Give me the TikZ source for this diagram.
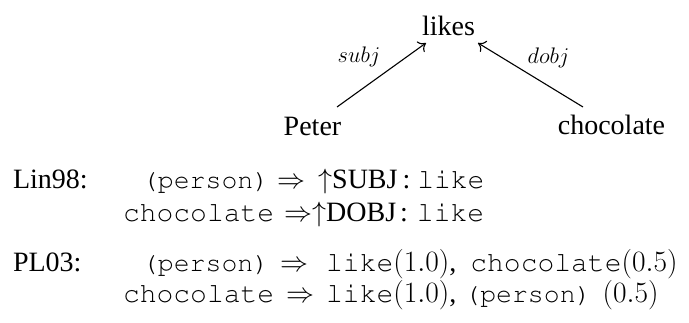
\RequirePackage{fix-cm}
\documentclass[tikz,border=0pt]{standalone}
\usepackage[T1]{fontenc}
\usepackage[no-math]{fontspec}
\setmainfont{Liberation Serif}
\usetikzlibrary{arrows.meta}

% Courier words, regular and slightly reduced
\newcommand{\tw}[1]{{\fontencoding{T1}\fontfamily{pcr}\fontsize{28}{34}\selectfont #1}}
\newcommand{\sm}[1]{{\fontencoding{T1}\fontfamily{pcr}\fontsize{26.5}{31}\selectfont #1}}
% weights in brackets
\newcommand{\wt}[1]{{\fontsize{29.5}{34}\selectfont$(#1)$}}

\tikzset{
  every node/.style={inner sep=0pt, outer sep=0pt},
  word/.style={font=\fontsize{28}{34}\selectfont, anchor=base},
  lab/.style={font=\fontsize{22.5}{27}\selectfont, anchor=base},
  row/.style={font=\fontsize{28}{34}\selectfont, anchor=base west},
  dep/.style={line width=1.1pt, -{To[length=7pt, width=13pt]}}
}

\begin{document}
\begin{tikzpicture}[x=1pt, y=-1pt]
  \useasboundingbox (0,0) rectangle (689,323);

  % dependency tree
  \node[word] (likes) at (448.5,36)  {likes};
  \node[word] (peter) at (312.5,136) {Peter};
  \node[word] (choc)  at (611.5,135) {chocolate};

  \draw[dep] ([shift={(24.5,-29)}]peter.base) -- ([shift={(-22.5,7)}]likes.base);
  \draw[dep] ([shift={(-28.5,-28)}]choc.base) -- ([shift={(29.5,7)}]likes.base);

  \node[lab] (subj) at (359,63)   {$subj$};
  \node[lab] (dobj) at (548.5,64) {$dobj$};

  % Lin98 features
  \node[row] (lin)  at (13,189) {Lin98:};
  \node[row] (lin1) at (142,189)
    {\sm{(person)}\hspace{8pt}$\Rightarrow$\hspace{13pt}$\uparrow$SUBJ\hspace{5pt}:\hspace{7pt}\tw{like}};
  \node[row] (lin2) at (123,222)
    {\tw{chocolate}\hspace{10pt}$\Rightarrow$$\uparrow$DOBJ\hspace{4pt}:\hspace{9pt}\tw{like}};

  % PL03 features
  \node[row] (pl)  at (13,272) {PL03:};
  \node[row] (pl1) at (142,272)
    {\sm{(person)}\hspace{11pt}$\Rightarrow$\hspace{18pt}\tw{like}\wt{1.0},\hspace{14pt}\tw{chocolate}\wt{0.5}};
  \node[row] (pl2) at (123,303)
    {\tw{chocolate}\hspace{12pt}$\Rightarrow$\hspace{12pt}\tw{like}\wt{1.0},\hspace{8pt}\sm{(person)}\hspace{11pt}\wt{0.5}};
\end{tikzpicture}
\end{document}
